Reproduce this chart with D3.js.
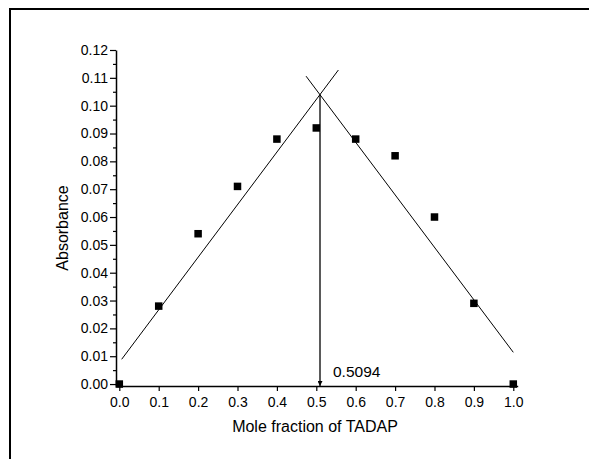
<!DOCTYPE html>
<html>
<head>
<meta charset="utf-8">
<script src="https://cdn.jsdelivr.net/npm/d3@7"></script>
<style>
  html, body { margin: 0; padding: 0; background: #fff; }
  svg { display: block; }
  text { font-family: "Liberation Sans", Arial, sans-serif; fill: #000; }
</style>
</head>
<body>
<div id="chart"></div>
<script>
/* Job plot — absorbance vs mole fraction of TADAP */

const moleFraction = [0.0, 0.1, 0.2, 0.3, 0.4, 0.5, 0.6, 0.7, 0.8, 0.9, 1.0];
const absorbance   = [0.000, 0.028, 0.054, 0.071, 0.088, 0.092, 0.088, 0.082, 0.060, 0.029, 0.000];

// fitted straight lines, end points
const leftFit  = [[0.006, 0.0089], [0.556, 0.1128]];
const rightFit = [[0.474, 0.1106], [1.000, 0.0114]];

// intersection, marked by the arrow
const crossX = 0.5094;
const crossY = 0.1040;
const crossLabel = '0.5094';

const xTicks = [0.0, 0.1, 0.2, 0.3, 0.4, 0.5, 0.6, 0.7, 0.8, 0.9, 1.0];
const yTicks = [0.00, 0.01, 0.02, 0.03, 0.04, 0.05, 0.06, 0.07, 0.08, 0.09, 0.10, 0.11, 0.12];
const yMinorTicks = d3.range(0.005, 0.12, 0.01);

const xTitle = 'Mole fraction of TADAP';
const yTitle = 'Absorbance';

const W = 589, H = 459;

const x = d3.scaleLinear().domain([-0.0084, 1.0112]).range([116, 517.7]);
const y = d3.scaleLinear().domain([-0.0007, 0.12]).range([386, 50]);

const svg = d3.select('#chart').append('svg')
  .attr('width', W)
  .attr('height', H);

svg.append('rect').attr('width', W).attr('height', H).attr('fill', '#fff');

// outer frame (right/bottom fall outside the picture)
svg.append('rect')
  .attr('x', 10).attr('y', 9)
  .attr('width', 620).attr('height', 500)
  .attr('fill', 'none')
  .attr('stroke', '#000')
  .attr('stroke-width', 2);

/* ── axes ─────────────────────────────── */

const xAxis = svg.append('g')
  .attr('transform', `translate(0,${y.range()[0]})`)
  .call(d3.axisBottom(x).tickValues(xTicks).tickFormat(d3.format('.1f'))
    .tickSize(5).tickSizeOuter(0).tickPadding(5.5));

const yAxis = svg.append('g')
  .attr('transform', `translate(${x.range()[0]},0)`)
  .call(d3.axisLeft(y).tickValues(yTicks).tickFormat(d3.format('.2f'))
    .tickSize(6).tickSizeOuter(0).tickPadding(2));

svg.append('g')
  .attr('transform', `translate(${x.range()[0]},0)`)
  .call(d3.axisLeft(y).tickValues(yMinorTicks).tickFormat('').tickSize(3).tickSizeOuter(0))
  .call(g => g.select('.domain').remove());

svg.selectAll('.domain').attr('stroke-width', 1.5);
svg.selectAll('.tick line').attr('stroke-width', 1.2);
svg.selectAll('.tick text')
  .attr('font-family', '"Liberation Sans", Arial, sans-serif')
  .attr('font-size', 14);

xAxis.selectAll('.tick text').attr('dy', '0.72em');

svg.append('text')
  .attr('x', 315)
  .attr('y', 432)
  .attr('text-anchor', 'middle')
  .attr('font-size', 16)
  .text(xTitle);

svg.append('text')
  .attr('transform', 'translate(68,228) rotate(-90)')
  .attr('text-anchor', 'middle')
  .attr('font-size', 16)
  .text(yTitle);

/* ── fit lines ─────────────────────────── */

const line = d3.line().x(d => x(d[0])).y(d => y(d[1]));

svg.append('g')
  .selectAll('path')
  .data([leftFit, rightFit])
  .join('path')
  .attr('d', line)
  .attr('fill', 'none')
  .attr('stroke', '#000')
  .attr('stroke-width', 1);

/* ── arrow from the crossing down to the axis ── */

svg.append('defs').append('marker')
  .attr('id', 'arrow')
  .attr('viewBox', '0 0 10 10')
  .attr('refX', 10).attr('refY', 5)
  .attr('markerWidth', 8).attr('markerHeight', 5)
  .attr('markerUnits', 'userSpaceOnUse')
  .attr('orient', 'auto')
  .append('path')
  .attr('d', 'M0,0 L10,5 L0,10 Z')
  .attr('fill', '#000');

svg.append('line')
  .attr('x1', x(crossX)).attr('y1', y(crossY))
  .attr('x2', x(crossX)).attr('y2', y.range()[0])
  .attr('stroke', '#000')
  .attr('stroke-width', 1.3)
  .attr('marker-end', 'url(#arrow)');

svg.append('text')
  .attr('x', x(crossX) + 13)
  .attr('y', 377)
  .attr('font-size', 15.5)
  .text(crossLabel);

/* ── data points ──────────────────────── */

const s = 7.5;
svg.append('g')
  .selectAll('rect')
  .data(moleFraction.map((m, i) => [m, absorbance[i]]))
  .join('rect')
  .attr('x', d => x(d[0]) - s / 2)
  .attr('y', d => y(d[1]) - s / 2)
  .attr('width', s)
  .attr('height', s)
  .attr('fill', '#000');
</script>
</body>
</html>
